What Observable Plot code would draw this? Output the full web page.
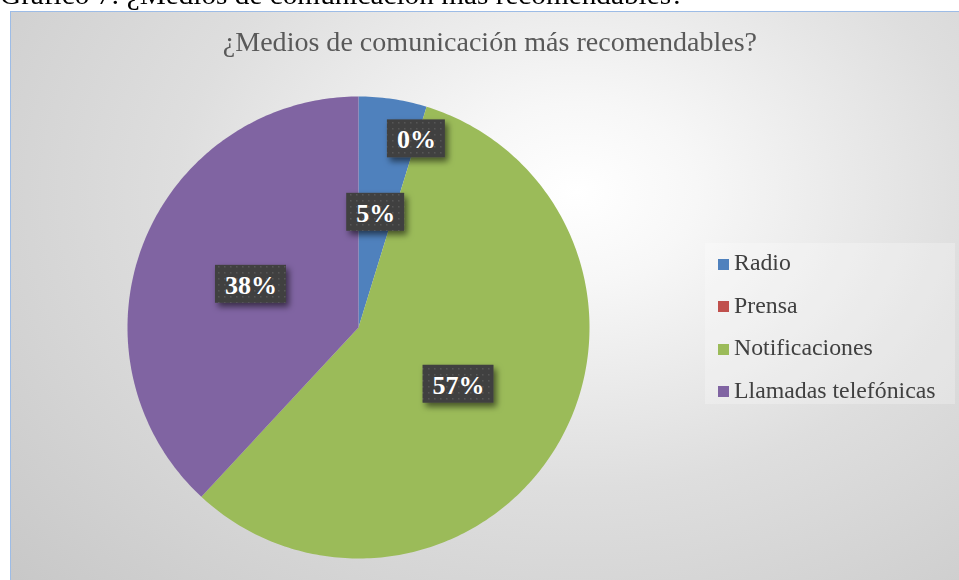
<!DOCTYPE html>
<html><head><meta charset="utf-8">
<script src="https://cdn.jsdelivr.net/npm/d3@7"></script>
<script src="https://cdn.jsdelivr.net/npm/@observablehq/plot@0.6"></script>
<style>
html,body{margin:0;padding:0;background:#fff;overflow:hidden}
#wrap{position:relative;width:959px;height:580px;overflow:hidden;font-family:"Liberation Serif","Times New Roman",serif}
#caption{position:absolute;left:0;font-size:28px;line-height:1;color:#000;white-space:nowrap;transform:scaleX(1.045);transform-origin:0 0}
#frame{position:absolute;left:10px;top:11px;width:975px;height:600px;border:1.5px solid #9DBCE6;
  background:radial-gradient(ellipse farthest-corner at 58% 30%, #ffffff 0%, #f7f7f7 15%, #dedede 50%, #c6c6c6 100%)}
#chart{position:absolute;left:0;top:0}
#title{position:absolute;left:0;width:980px;text-align:center;font-size:27.5px;line-height:1;color:#595959;white-space:nowrap}
#title span{display:inline-block;transform:scaleX(1.02)}
#legend{position:absolute;left:705px;top:243px;width:250px;height:161px;background:rgba(255,255,255,0.25)}
.li{position:absolute;font-size:23px;line-height:1;color:#404040;white-space:nowrap;transform-origin:0 0;transform:scaleX(1.035)}
.sw{position:absolute;width:11px;height:11px}
</style>
</head><body>
<div id="wrap">
  <div id="caption"></div>
  <div id="frame"></div>
  <div id="title"><span></span></div>
  <div id="legend"></div>
  <div id="chart"></div>
</div>
<script>
const caption = "Gráfico 7: ¿Medios de comunicación más recomendables?";
const title = "¿Medios de comunicación más recomendables?";
const categories = ["Radio", "Prensa", "Notificaciones", "Llamadas telefónicas"];
const counts = [1, 0, 12, 8];
const colors = ["#4F81BD", "#C0504D", "#9BBB59", "#8064A2"];

// caption & title (baselines)
const capFs = 28, capBase = 4;
const cap = document.getElementById("caption");
cap.textContent = caption;
cap.style.top = (capBase - 0.8375 * capFs) + "px";
const tFs = 27.5;
const tEl = document.getElementById("title");
tEl.querySelector("span").textContent = title;
tEl.style.top = (51 - 0.8375 * tFs) + "px";

// legend
const legend = document.getElementById("legend");
const legFs = 23;
const legBase = [270.5, 313, 355.5, 398];
categories.forEach((c, i) => {
  const sw = document.createElement("div");
  sw.className = "sw";
  sw.style.background = colors[i];
  sw.style.left = (718 - 705) + "px";
  sw.style.top = (legBase[i] - 12 - 243) + "px";
  legend.appendChild(sw);
  const t = document.createElement("div");
  t.className = "li";
  t.textContent = c;
  t.style.left = (734 - 705) + "px";
  t.style.top = (legBase[i] - 0.8375 * legFs - 243) + "px";
  legend.appendChild(t);
});

// pie geometry from data
const total = d3.sum(counts);
let acc = 0;
const slices = categories.map((c, i) => {
  const a0 = acc / total * 2 * Math.PI;
  acc += counts[i];
  const a1 = acc / total * 2 * Math.PI;
  return {cat: c, value: counts[i], a0, a1};
});
const piePts = [];
slices.filter(s => s.value > 0).forEach(s => {
  const n = Math.max(2, Math.ceil((s.a1 - s.a0) / (2 * Math.PI) * 400));
  piePts.push({cat: s.cat, x: 0, y: 0});
  for (let k = 0; k <= n; k++) {
    const t = s.a0 + (s.a1 - s.a0) * k / n;
    piePts.push({cat: s.cat, x: Math.sin(t), y: Math.cos(t)});
  }
  piePts.push({cat: s.cat, x: 0, y: 0});
});
const labels = slices.map(s => {
  const m = (s.a0 + s.a1) / 2;
  const r = s.value === 0 ? 0.85 : 0.5;
  return {cat: s.cat, label: Math.round(s.value / total * 100) + "%", x: r * Math.sin(m), y: r * Math.cos(m)};
});

const lblFs = 26;
const ctx = document.createElement("canvas").getContext("2d");
ctx.font = "bold " + lblFs + "px 'Liberation Serif'";

const boxes = (index, scales, values, dimensions, context) => {
  const g = d3.create("svg:g");
  const defs = g.append("defs");
  const pat = defs.append("pattern").attr("id", "dots").attr("patternUnits", "userSpaceOnUse")
    .attr("width", 6).attr("height", 6);
  pat.append("rect").attr("width", 6).attr("height", 6).attr("fill", "#404040");
  pat.append("rect").attr("x", 2).attr("y", 2).attr("width", 1.5).attr("height", 1.5).attr("fill", "#565656");
  const f = defs.append("filter").attr("id", "shadow").attr("x", "-30%").attr("y", "-30%").attr("width", "170%").attr("height", "170%");
  f.append("feDropShadow").attr("dx", 3).attr("dy", 4).attr("stdDeviation", 3)
    .attr("flood-color", "#000").attr("flood-opacity", 0.55);
  labels.forEach(d => {
    const cx = scales.x(d.x), cy = scales.y(d.y);
    const w = ctx.measureText(d.label).width + 19, h = 38;
    g.append("rect").attr("x", cx - w / 2).attr("y", cy - h / 2 - 1).attr("width", w).attr("height", h)
      .attr("fill", "url(#dots)").attr("filter", "url(#shadow)");
  });
  return g.node();
};

const chart = Plot.plot({
  width: 959,
  height: 580,
  margin: 0,
  x: {domain: [-1, 1], range: [127, 589], axis: null},
  y: {domain: [-1, 1], range: [558, 96], axis: null},
  color: {domain: categories, range: colors},
  style: {background: "transparent", overflow: "visible"},
  marks: [
    Plot.line(piePts, {x: "x", y: "y", z: "cat", fill: "cat", stroke: "none", curve: "linear"}),
    boxes,
    Plot.text(labels, {x: "x", y: "y", text: "label", fill: "white", fontSize: lblFs, fontWeight: "bold",
      fontFamily: "Liberation Serif", lineAnchor: "middle"})
  ]
});
document.getElementById("chart").appendChild(chart);
</script>
</body></html>
